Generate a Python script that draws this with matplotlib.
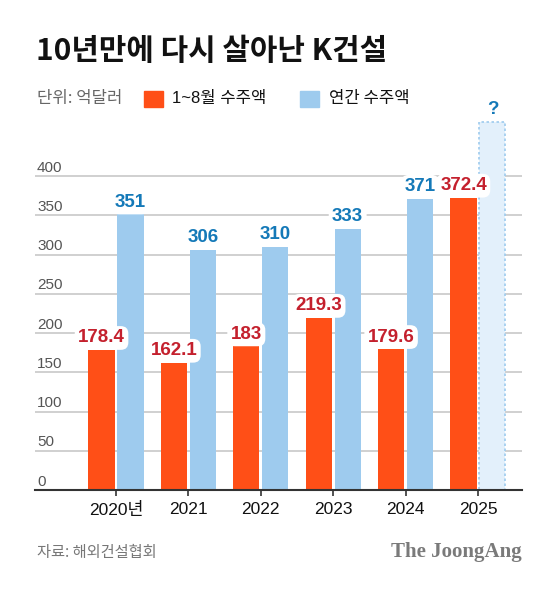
"""10년만에 다시 살아난 K건설 - bar chart."""
import numpy as np
import matplotlib
matplotlib.use("Agg")
import matplotlib.pyplot as plt
from matplotlib.patches import Rectangle

W, H = 559, 599

years = ["2020년", "2021", "2022", "2023", "2024", "2025"]
aug_orders = [178.4, 162.1, 183, 219.3, 179.6, 372.4]
annual_orders = [351, 306, 310, 333, 371, np.nan]
aug_labels = ["178.4", "162.1", "183", "219.3", "179.6", "372.4"]
annual_labels = ["351", "306", "310", "333", "371", "?"]
placeholder_2025 = 469  # empty "?" bar
yticks = [0, 50, 100, 150, 200, 250, 300, 350, 400]

ORANGE = "#ff4f17"
BLUE = "#9ecbee"
RED_TXT = "#c4202d"
BLUE_TXT = "#1479b8"
KR = "Noto Sans CJK KR"
LAT = ["Liberation Sans", KR]

plt.rcParams["font.family"] = ["Liberation Sans", KR, "DejaVu Sans"]


def fx(px):
    return px / W


def fy(py):
    return 1 - py / H


fig = plt.figure(figsize=(W / 100, H / 100), dpi=100)

# axes: x from 35 to 522 px, baseline at 490 px, 0.785 px per unit
ymax = 480
top_px = 490 - ymax * 0.785
ax = fig.add_axes([fx(35), fy(490), fx(522) - fx(35), fy(top_px) - fy(490)])

x = np.arange(len(years))
off, bw = 0.2, 0.36
ax.set_xlim(-1.119, 5.608)
ax.set_ylim(0, ymax)

for v in yticks:
    if v > 0:
        ax.axhline(v, color="#d0d0d0", lw=1.4, zorder=0)
    ax.annotate(str(v), xy=(0, v), xycoords=("axes fraction", "data"),
                xytext=(1.5, 1), textcoords="offset points",
                ha="left", va="bottom", fontsize=11, color="#555555")

ax.bar(x - off, aug_orders, bw, color=ORANGE, zorder=2)
ax.bar(x + off, annual_orders, bw, color=BLUE, zorder=2)
# placeholder bar for 2025
ax.bar(x[-1] + off, placeholder_2025, bw, color="#e3f0fb",
       edgecolor=BLUE, linestyle=(0, (1.5, 1.5)), lw=1.2, zorder=1)

box = dict(boxstyle="round,pad=0.18,rounding_size=0.4", fc="white", ec="none")
for i, (v, lab) in enumerate(zip(aug_orders, aug_labels)):
    ax.annotate(lab, xy=(x[i] - off, v), xytext=(0, 2.5), textcoords="offset points",
                ha="center", va="bottom", fontsize=13.5, fontweight="bold",
                color=RED_TXT, bbox=box, zorder=5, family=LAT)
for i, lab in enumerate(annual_labels):
    v = annual_orders[i] if not np.isnan(annual_orders[i]) else placeholder_2025
    ax.annotate(lab, xy=(x[i] + off, v), xytext=(0, 2.5), textcoords="offset points",
                ha="center", va="bottom", fontsize=13.5, fontweight="bold",
                color=BLUE_TXT, bbox=box if lab != "?" else None, zorder=5,
                family=LAT)

for s in ["top", "right", "left"]:
    ax.spines[s].set_visible(False)
ax.spines["bottom"].set_color("#333333")
ax.spines["bottom"].set_linewidth(1.5)
ax.set_yticks([])
ax.set_xticks(x)
ax.set_xticklabels(years, fontsize=12.5, color="#111111")
ax.tick_params(axis="x", length=4, width=1.2, color="#333333", pad=5)

# title and legend row
fig.text(fx(36), fy(51), "10년만에 다시 살아난 K건설", family=KR,
         fontweight="heavy", fontsize=21.5, va="center", ha="left", color="#111111")
fig.text(fx(37), fy(99), "단위: 억달러", family=KR, fontsize=12,
         va="center", ha="left", color="#666666")
fig.patches.append(Rectangle((fx(144), fy(107)), fx(19), fy(91) - fy(107),
                             transform=fig.transFigure, color=ORANGE))
fig.text(fx(172), fy(99), "1~8월 수주액", family=LAT, fontsize=12,
         va="center", ha="left", color="#111111")
fig.patches.append(Rectangle((fx(300), fy(107)), fx(19), fy(91) - fy(107),
                             transform=fig.transFigure, color=BLUE))
fig.text(fx(329), fy(99), "연간 수주액", family=KR, fontsize=12,
         va="center", ha="left", color="#111111")

# footer
fig.text(fx(37), fy(552), "자료: 해외건설협회", family=KR, fontsize=11,
         va="center", ha="left", color="#777777")
fig.text(fx(522), fy(552), "The JoongAng", family="Liberation Serif",
         fontweight="bold", fontsize=15, va="center", ha="right", color="#7a7a7a")

plt.savefig("out.png", dpi=100)
